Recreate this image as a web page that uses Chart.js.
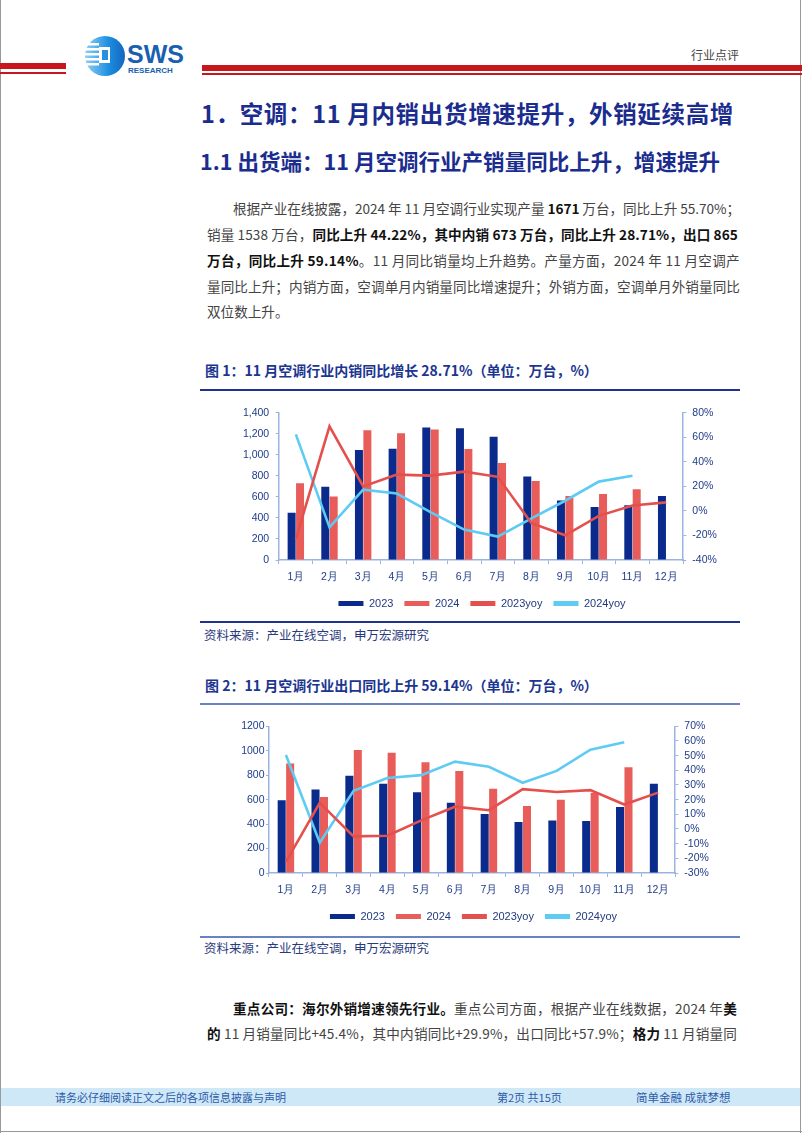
<!DOCTYPE html>
<html>
<head>
<meta charset="utf-8">
<script src="https://cdn.jsdelivr.net/npm/chart.js@4.4.1/dist/chart.umd.min.js"></script>
<style>
body{margin:0;background:#fff;}
#page{position:relative;width:802px;height:1133px;overflow:hidden;font-family:"Noto Sans CJK SC","Noto Sans",sans-serif;}
.abs{position:absolute;white-space:nowrap;}
.ln{position:absolute;left:207px;font-size:13.6px;line-height:20px;color:#444;white-space:nowrap;}
.ln b{color:#111;font-weight:700;}
.rule{position:absolute;left:200px;width:540px;height:1.5px;}
.figt{position:absolute;left:205px;font-size:14px;line-height:20px;font-weight:700;color:#1b3590;white-space:nowrap;}
.src{position:absolute;left:204px;font-size:12.5px;line-height:18px;color:#2b3a7c;white-space:nowrap;}
.foot{position:absolute;top:1088px;font-size:11px;line-height:18px;color:#2d5aa8;white-space:nowrap;}
.box{position:absolute;}
</style>
</head>
<body>
<div id="page">
  <!-- frame -->
  <div class="abs" style="left:0;top:0;width:1px;height:1133px;background:#999"></div>
  <div class="abs" style="left:800px;top:0;width:1px;height:1133px;background:#999"></div>
  <div class="abs" style="left:0;top:1131px;width:802px;height:1px;background:#999"></div>

  <!-- header -->
  <div class="abs" style="left:0;top:63px;width:66px;height:6px;background:#c8161d"></div>
  <div class="abs" style="left:0;top:72px;width:66px;height:2px;background:#c8161d"></div>
  <div class="abs" style="left:202px;top:65px;width:600px;height:6px;background:#c8161d"></div>
  <div class="abs" style="left:202px;top:73px;width:600px;height:2px;background:#c8161d"></div>
  <svg class="abs" style="left:80px;top:34px" width="110" height="46">
    <defs>
      <linearGradient id="g" x1="0" x2="1" y1="0" y2="0">
        <stop offset="0" stop-color="#8fd0f5"/><stop offset="0.6" stop-color="#1c8ee0"/><stop offset="1" stop-color="#1466bd"/>
      </linearGradient>
    </defs>
    <circle cx="25" cy="22" r="20" fill="url(#g)"/>
    <rect x="5" y="9" width="14" height="2.5" fill="#fff"/>
    <rect x="4" y="14" width="15" height="2.5" fill="#fff"/>
    <rect x="4" y="19" width="15" height="2.5" fill="#fff"/>
    <rect x="4" y="24" width="15" height="2.5" fill="#fff"/>
    <rect x="5" y="29" width="14" height="2.5" fill="#fff"/>
    <rect x="19" y="13" width="11" height="16" fill="#fff"/>
    <rect x="22" y="16" width="6" height="10" fill="#2a8fdc"/>
    <text x="47" y="29" font-family="Liberation Sans" font-weight="700" font-size="25" fill="#1a5fb0">SWS</text>
    <text x="48" y="39" font-family="Liberation Sans" font-weight="700" font-size="8" fill="#1a5fb0">RESEARCH</text>
  </svg>
  <div class="abs" style="left:691px;top:46px;font-size:12px;line-height:18px;color:#444">行业点评</div>

  <!-- titles -->
  <div class="abs fit" data-w="533" style="left:201px;top:101px;font-size:23.5px;line-height:24px;font-weight:700;color:#1b2c8f">1．空调：11 月内销出货增速提升，外销延续高增</div>
  <div class="abs fit" data-w="520" style="left:200px;top:150px;font-size:21.5px;line-height:22px;font-weight:700;color:#1b2c8f">1.1 出货端：11 月空调行业产销量同比上升，增速提升</div>

  <!-- body paragraph -->
  <div class="ln fit" data-w="507" style="top:198px;left:233px">根据产业在线披露，2024 年 11 月空调行业实现产量 <b>1671</b> 万台，同比上升 55.70%；</div>
  <div class="ln fit" data-w="531" style="top:224px">销量 1538 万台，<b>同比上升 44.22%，其中内销 673 万台，同比上升 28.71%，出口 865</b></div>
  <div class="ln fit" data-w="533" style="top:250px"><b>万台，同比上升 59.14%</b>。11 月同比销量均上升趋势。产量方面，2024 年 11 月空调产</div>
  <div class="ln fit" data-w="533" style="top:276px">量同比上升；内销方面，空调单月内销量同比增速提升；外销方面，空调单月外销量同比</div>
  <div class="ln" style="top:301px">双位数上升。</div>

  <!-- figure 1 -->
  <div class="figt" style="top:360px">图 1：11 月空调行业内销同比增长 28.71%（单位：万台，%）</div>
  <div class="rule" style="top:389px;background:#22318f"></div>
  <div class="box" style="left:224px;top:400px;width:516px;height:219px"><canvas id="c1" width="516" height="219"></canvas></div>
  <div class="rule" style="top:621px;background:#22318f"></div>
  <div class="src" style="top:626px">资料来源：产业在线空调，申万宏源研究</div>

  <!-- figure 2 -->
  <div class="figt" style="top:675px">图 2：11 月空调行业出口同比上升 59.14%（单位：万台，%）</div>
  <div class="rule" style="top:703px;background:#6a82c4"></div>
  <div class="box" style="left:207px;top:714px;width:533px;height:218px"><canvas id="c2" width="533" height="218"></canvas></div>
  <div class="rule" style="top:936px;background:#6a82c4"></div>
  <div class="src" style="top:939px">资料来源：产业在线空调，申万宏源研究</div>

  <!-- closing paragraph -->
  <div class="ln fit" data-w="504" style="top:998px;left:233px"><b>重点公司：海尔外销增速领先行业。</b>重点公司方面，根据产业在线数据，2024 年<b>美</b></div>
  <div class="ln fit" data-w="530" style="top:1023px"><b>的</b> 11 月销量同比+45.4%，其中内销同比+29.9%，出口同比+57.9%；<b>格力</b> 11 月销量同</div>

  <!-- footer -->
  <div class="abs" style="left:1px;top:1088px;width:799px;height:18px;background:#cfe8f8"></div>
  <div class="foot" style="left:55px">请务必仔细阅读正文之后的各项信息披露与声明</div>
  <div class="foot" style="left:497px">第2页 共15页</div>
  <div class="foot" style="left:636px;font-size:11.5px">简单金融 成就梦想</div>
</div>

<script>
const months = ["1月","2月","3月","4月","5月","6月","7月","8月","9月","10月","11月","12月"];
const seriesNames = ["2023","2024","2023yoy","2024yoy"];

// 图1 内销 (万台, %)
const domestic2023 = [450,697,1047,1059,1260,1254,1172,794,566,505,520,609];
const domestic2024 = [730,603,1233,1205,1242,1056,922,752,609,627,673,null];
const domesticYoy2023 = [-23,69,20,29.6,28.8,32,27.8,-10,-19.9,-4,4.4,7];
const domesticYoy2024 = [62.4,-13.4,17.4,14.2,-0.9,-15.2,-20.9,-6,8.3,23.9,28.71,null];

// 图2 出口 (万台, %)
const export2023 = [595,683,796,730,660,574,483,417,430,425,540,730];
const export2024 = [895,621,1007,983,905,835,689,548,600,657,865,null];
const exportYoy2023 = [-22.4,17.8,-5,-4.6,5.9,15.2,12.8,27.2,25.2,26.5,16.7,24.8];
const exportYoy2024 = [50.4,-9.3,26.1,34.8,36.7,45.9,42.4,31.5,39.6,54.1,59.14,null];

const NAVY = "#0b2b8c", SALMON = "#e85d5a", RED = "#e4504d", CYAN = "#5ecbf3";
const AXIS = "#9bb3e0", TICK = "#1f3c88";
const tickFont = {family:"Liberation Sans", size:10.5};

/* stretch each text line to its measured width, like justified print */
function fitLines(){
  document.querySelectorAll(".fit").forEach(el=>{
    el.style.letterSpacing = "0px";
    const n = el.textContent.length;
    const natural = el.getBoundingClientRect().width;
    el.style.letterSpacing = ((Number(el.dataset.w) - natural) / n) + "px";
  });
}
fitLines();
if(document.fonts) document.fonts.ready.then(fitLines);

function makeChart(id, bars1, bars2, yoy1, yoy2, ax){
  new Chart(document.getElementById(id), {
    type:"bar",
    data:{
      labels:months,
      datasets:[
        {label:seriesNames[0], data:bars1, backgroundColor:NAVY, order:2, categoryPercentage:0.5, barPercentage:0.95},
        {label:seriesNames[1], data:bars2, backgroundColor:SALMON, order:2, categoryPercentage:0.5, barPercentage:0.95},
        {label:seriesNames[2], type:"line", data:yoy1, yAxisID:"y1", borderColor:RED, backgroundColor:RED, borderWidth:2.6, pointRadius:0, tension:0, order:1},
        {label:seriesNames[3], type:"line", data:yoy2, yAxisID:"y1", borderColor:CYAN, backgroundColor:CYAN, borderWidth:2.6, pointRadius:0, tension:0, order:1}
      ]
    },
    options:{
      responsive:false, animation:false,
      layout:{padding:0},
      plugins:{
        tooltip:{enabled:false},
        legend:{
          position:"bottom",
          labels:{
            boxWidth:25, boxHeight:5, padding:11, color:"#233a80",
            font:{family:"Liberation Sans", size:11},
            sort:(a,b)=>a.datasetIndex-b.datasetIndex,
            generateLabels:chart=>Chart.defaults.plugins.legend.labels.generateLabels(chart).map(l=>({...l, lineWidth:0}))
          }
        }
      },
      scales:{
        x:{
          grid:{drawOnChartArea:false, tickLength:4, color:AXIS},
          border:{color:AXIS, width:1.5},
          ticks:{color:TICK, font:tickFont, padding:6.4, maxRotation:0, autoSkip:false},
          afterFit:s=>{ s.height = 27; }
        },
        y:{
          position:"left", min:0, max:ax.leftMax,
          grid:{drawOnChartArea:false, tickLength:ax.leftTick, color:AXIS},
          border:{color:AXIS, width:1.5},
          ticks:{stepSize:200, color:TICK, font:tickFont, padding:ax.leftPad, callback:ax.leftFmt, autoSkip:false},
          afterFit:s=>{ s.width = ax.leftW; }
        },
        y1:{
          position:"right", min:ax.rMin, max:ax.rMax,
          grid:{drawOnChartArea:false, tickLength:3.3, color:AXIS},
          border:{color:AXIS, width:1.5},
          ticks:{stepSize:ax.rStep, color:TICK, font:tickFont, padding:6, callback:v=>v+"%", autoSkip:false},
          afterFit:s=>{ s.width = ax.rightW; }
        }
      }
    }
  });
}

makeChart("c1", domestic2023, domestic2024, domesticYoy2023, domesticYoy2024, {
  leftMax:1400, leftFmt:v=>v.toLocaleString("en-US"), leftW:55, leftTick:3.3, leftPad:6.5,
  rMin:-40, rMax:80, rStep:20, rightW:57
});
makeChart("c2", export2023, export2024, exportYoy2023, exportYoy2024, {
  leftMax:1200, leftFmt:v=>String(v), leftW:62, leftTick:3, leftPad:1.5,
  rMin:-30, rMax:70, rStep:10, rightW:65
});
</script>
</body>
</html>
